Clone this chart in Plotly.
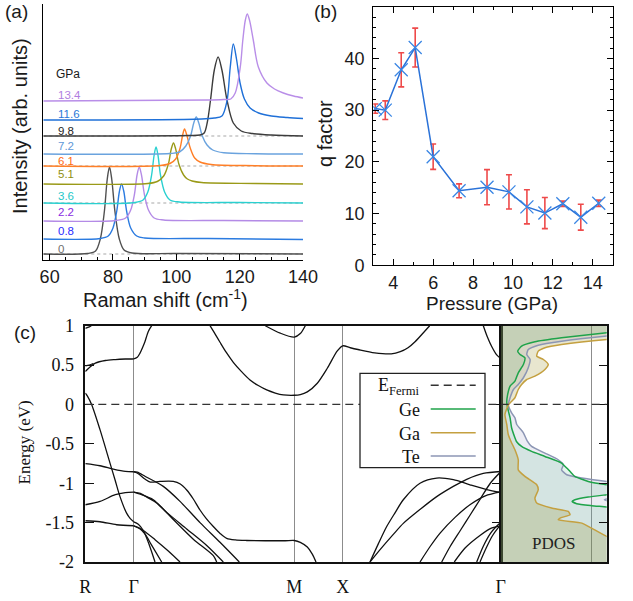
import plotly.graph_objects as go

W, H = 633, 601
def px(x): return x / W
def py(y): return 1 - y / H

SANS = "Liberation Sans, Arial, sans-serif"
SERIF = "Liberation Serif, Times New Roman, serif"

# ---------------- (a) Raman spectra ----------------
pressure_labels = ["0", "0.8", "2.2", "3.6", "5.1", "6.1", "7.2", "9.8", "11.6", "13.4"]
curve_colors = ["#505050", "#2b7be0", "#b48be6", "#2ad0d0", "#9a9a18", "#ff7f27",
                "#6aa3de", "#3c3c3c", "#1f70d8", "#b98ee8"]
label_colors = ["#707070", "#2a2aff", "#8a2be2", "#25c8c8", "#8f8f10", "#ff6a10",
                "#5f98d8", "#1e1e1e", "#2a78d8", "#b07ee0"]
baselines = [6, 21, 39, 57, 76, 94, 106, 124, 141, 160]
label_y = [11, 29, 48, 64, 86, 99.5, 114, 129, 146, 165.5]
dotted_rows = [0, 3, 5, 7]

shift_00 = [58, 72, 74.5, 76, 77.3, 78.2, 78.9, 79.6, 80.6, 82, 83.5, 86, 100, 140]
inten_00 = [0, 0.5, 3, 15, 43, 75, 87, 75, 43, 15, 4, 1, 0.5, 0]
shift_08 = [58, 76, 78.5, 80, 81.2, 82.0, 82.7, 83.4, 84.3, 85.6, 87.5, 90, 110, 140]
inten_08 = [0, 0.5, 3, 11, 28, 47, 55, 48, 28, 11, 3, 1, 0.5, -0.5]
shift_22 = [58, 81, 84, 85.6, 86.8, 87.6, 88.3, 89.0, 89.9, 91.2, 93, 96, 115, 140]
inten_22 = [0, 0.5, 3, 11, 27, 46, 54, 46, 27, 11, 3, 1, 0.5, 0]
shift_36 = [58, 87, 89.5, 91, 92.2, 93.0, 93.6, 94.2, 95.0, 96.3, 98, 101, 120, 140]
inten_36 = [0, 0.5, 3, 11, 28, 48, 56, 48, 28, 11, 3, 1, 0.5, 0]
shift_51 = [58, 91, 94, 96, 97.5, 98.4, 99.1, 99.8, 100.8, 102.3, 103.5, 105, 108, 125, 140]
inten_51 = [0, 0.5, 2.5, 8, 20, 35, 41, 35, 20, 9, 5, 3, 1.5, 0.5, 0]
shift_61 = [58, 95, 98, 99.8, 101.2, 102.0, 102.6, 103.3, 104.4, 105.8, 107.5, 111, 125, 140]
inten_61 = [0, 0.5, 2.5, 7, 18, 31, 37, 31, 18, 8, 4, 1.5, 0.3, 0]
shift_72 = [58, 98, 101, 103, 104.5, 105.5, 106.3, 107.1, 108.2, 109.7, 111.5, 115, 125, 140]
inten_72 = [0, 0.5, 2, 8, 18, 31, 37, 31, 18, 9, 4, 1.2, 0.3, 0]
shift_98 = [58, 104, 107.5, 108.8, 109.8, 110.8, 112.0, 113.2, 114.4, 116, 118, 120.5, 124, 130, 140]
inten_98 = [0, 0.5, 1, 3, 14, 36, 66, 79, 66, 36, 13, 5, 2.5, 1, 0]
shift_116 = [58, 108, 112, 114.4, 116, 117, 118, 119, 120.2, 121.5, 123.3, 126, 130, 135, 140]
inten_116 = [-1, 0, 1, 3, 18, 51, 75, 60, 35, 20, 11, 6, 3, 1.5, 0.5]
shift_134 = [58, 110, 115, 117.2, 118.6, 120.2, 121.0, 121.8, 122.4, 123.1, 124.3, 125.9, 128.6, 131, 133.8, 137, 140]
inten_134 = [-1, 0, 0.5, 1, 7, 33, 60, 80, 86, 80, 60, 33, 17, 11, 7, 4, 2]

spectra = [(shift_00, inten_00), (shift_08, inten_08), (shift_22, inten_22), (shift_36, inten_36),
           (shift_51, inten_51), (shift_61, inten_61), (shift_72, inten_72), (shift_98, inten_98),
           (shift_116, inten_116), (shift_134, inten_134)]
raman_range = [58, 140]

# ---------------- (b) q factor ----------------
pressure_b = [3.1, 3.6, 4.4, 5.1, 6.0, 7.3, 8.7, 9.8, 10.7, 11.6, 12.5, 13.4, 14.3]
q_factor = [30.3, 30.0, 37.8, 42.1, 21.0, 14.4, 15.1, 14.2, 11.3, 10.1, 11.9, 9.3, 12.0]
q_error = [0.9, 1.8, 3.3, 3.75, 2.45, 1.35, 3.4, 3.3, 3.3, 3.0, 0.5, 2.5, 0.6]

# ---------------- (c) band structure ----------------
k_points = [0.0, 0.484, 2.09, 2.574, 4.154]
k_labels = ["R", "Γ", "M", "X", "Γ"]
FERMI = 0.0

bands = [
    ([0, 0.05, 0.10, 0.20, 0.30, 0.40, 0.484, 0.52, 0.547, 0.575, 0.597, 0.63, 0.664],
     [0.419, 0.48, 0.525, 0.558, 0.57, 0.577, 0.580, 0.60, 0.652, 0.73, 0.80, 0.927, 1.0]),
    ([0, 0.04, 0.08], [0.49, 0.50, 0.52]),
    ([0, 0.04, 0.06], [0.965, 0.985, 1.0]),
    ([0, 0.02, 0.063, 0.147, 0.247, 0.297, 0.347, 0.413, 0.45, 0.484],
     [0.145, 0.11, 0.0, -0.32, -0.744, -0.955, -1.17, -1.38, -1.45, -1.49]),
    ([0.484, 0.53, 0.58, 0.63, 0.697], [-1.49, -1.52, -1.60, -1.75, -2.0]),
    ([0.484, 0.54, 0.60, 0.66, 0.764], [-1.54, -1.57, -1.65, -1.78, -2.0]),
    ([0.484, 0.58, 0.70, 0.83, 0.947], [-1.54, -1.60, -1.72, -1.86, -2.0]),
    ([0, 0.147, 0.28, 0.40, 0.484], [-0.752, -0.778, -0.82, -0.85, -0.854]),
    ([0.484, 0.53, 0.60, 0.65, 0.747, 0.88, 0.95, 1.014, 1.08, 1.147, 1.21, 1.28, 1.35, 1.414,
      1.50, 1.614, 1.80, 2.00, 2.09, 2.15, 2.22, 2.27, 2.307],
     [-0.854, -0.88, -0.95, -0.985, -0.977, -0.977, -1.01, -1.086, -1.20, -1.34, -1.45, -1.55,
      -1.64, -1.70, -1.72, -1.727, -1.73, -1.73, -1.727, -1.75, -1.81, -1.90, -2.0]),
    ([0.484, 0.52, 0.60, 0.78, 0.947, 1.147, 1.347, 1.54],
     [-0.854, -0.86, -0.914, -1.04, -1.23, -1.50, -1.75, -2.0]),
    ([0, 0.147, 0.30, 0.40, 0.484], [-1.273, -1.23, -1.146, -1.12, -1.114]),
    ([0.484, 0.55, 0.62, 0.713, 0.88, 1.08, 1.28, 1.314],
     [-1.114, -1.13, -1.18, -1.25, -1.46, -1.71, -1.92, -2.0]),
    ([0.484, 0.55, 0.68, 0.814, 1.014, 1.214, 1.38],
     [-1.114, -1.14, -1.21, -1.37, -1.58, -1.79, -2.0]),
    ([0, 0.147, 0.313, 0.484], [-1.476, -1.489, -1.527, -1.54]),
    ([1.247, 1.30, 1.347, 1.41, 1.48, 1.56, 1.647, 1.73, 1.814, 1.90, 1.98, 2.09, 2.15, 2.22,
      2.32, 2.42, 2.52, 2.574, 2.65, 2.727, 2.894, 3.06, 3.15, 3.227, 3.30, 3.394, 3.444],
     [1.0, 0.89, 0.79, 0.66, 0.535, 0.42, 0.311, 0.24, 0.184, 0.145, 0.122, 0.117, 0.125, 0.16,
      0.27, 0.46, 0.68, 0.745, 0.72, 0.698, 0.656, 0.643, 0.67, 0.72, 0.80, 0.93, 1.0]),
    ([1.80, 1.95, 2.09, 2.15, 2.2], [1.0, 0.905, 0.855, 0.90, 1.0]),
    ([3.98, 4.02, 4.064, 4.114, 4.154], [1.0, 0.86, 0.736, 0.63, 0.585]),
    ([2.847, 2.93, 3.014, 3.10, 3.18, 3.347, 3.514, 3.68, 3.847, 4.014, 4.154],
     [-2.0, -1.77, -1.55, -1.37, -1.21, -1.0, -0.934, -0.955, -1.02, -1.08, -1.116]),
    ([2.847, 2.95, 3.08, 3.18, 3.35, 3.514, 3.68, 3.814, 3.98, 4.154],
     [-2.0, -1.84, -1.65, -1.51, -1.33, -1.17, -1.04, -0.95, -0.875, -0.851]),
    ([3.347, 3.45, 3.55, 3.70, 3.85, 4.00, 4.154], [-2.0, -1.80, -1.63, -1.43, -1.27, -1.16, -1.11]),
    ([3.564, 3.65, 3.75, 3.85, 3.95, 4.05, 4.154], [-2.0, -1.80, -1.60, -1.40, -1.20, -1.0, -0.855]),
    ([3.69, 3.80, 3.95, 4.06, 4.154], [-2.0, -1.82, -1.66, -1.57, -1.54]),
    ([3.914, 3.98, 4.05, 4.11, 4.154], [-2.0, -1.80, -1.64, -1.55, -1.50]),
    ([3.947, 4.01, 4.07, 4.12, 4.154], [-2.0, -1.82, -1.67, -1.58, -1.53]),
]

# ---------------- (c) PDOS ----------------
pdos_range = [0, 3.5]
pdos_marker_line = 3.0
E_ge = [1.0, 0.93, 0.910, 0.846, 0.796, 0.741, 0.677, 0.635, 0.593, 0.508, 0.402, 0.296, 0.233,
        0.127, 0.022, -0.078, -0.169, -0.296, -0.423, -0.47, -0.533, -0.596, -0.66, -0.744, -0.807,
        -0.85, -0.913, -0.977, -1.019, -1.05, -1.10, -1.146, -1.175, -1.21, -1.23, -1.26, -1.285,
        -1.302, -1.35, -2.0]
dos_ge = [5, 4.2, 3.5, 2.01, 1.13, 0.69, 0.56, 0.64, 0.80, 0.75, 0.58, 0.47, 0.31,
          0.23, 0.20, 0.25, 0.31, 0.36, 0.47, 0.52, 0.69, 1.02, 1.46, 2.01, 2.18,
          2.29, 2.45, 2.89, 3.5, 4.2, 4.5, 3.5, 2.89, 2.45, 2.36, 2.51, 3.0,
          3.5, 4.5, 5]
E_te = [1.0, 0.89, 0.868, 0.804, 0.753, 0.698, 0.635, 0.571, 0.466, 0.339, 0.254, 0.19, 0.085,
        -0.008, -0.106, -0.169, -0.254, -0.36, -0.466, -0.533, -0.617, -0.702, -0.765, -0.83,
        -0.892, -0.934, -0.977, -1.0, -1.15, -1.19, -1.21, -1.23, -1.27, -2.0]
dos_te = [5, 4.2, 3.5, 2.01, 1.24, 0.91, 0.86, 0.97, 0.91, 0.75, 0.58, 0.42, 0.31,
          0.25, 0.36, 0.47, 0.53, 0.75, 0.88, 1.02, 1.46, 1.90, 2.07, 2.01,
          2.18, 2.68, 3.5, 4.2, 4.5, 3.6, 3.42, 3.6, 4.5, 5]
E_ga = [1.0, 0.84, 0.825, 0.762, 0.72, 0.677, 0.614, 0.571, 0.508, 0.444, 0.36, 0.317, 0.254,
        0.19, 0.085, -0.008, -0.127, -0.254, -0.381, -0.47, -0.575, -0.702, -0.83, -0.913, -1.019,
        -1.083, -1.189, -1.252, -1.315, -1.358, -1.4, -1.442, -1.463, -1.506, -1.57, -1.675, -1.75, -2.0]
dos_ga = [5, 4.2, 3.5, 2.01, 1.46, 1.24, 1.19, 1.41, 1.57, 1.46, 1.13, 0.86, 0.69,
          0.58, 0.47, 0.25, 0.14, 0.20, 0.25, 0.34, 0.47, 0.58, 0.58, 0.80, 1.19,
          1.24, 1.13, 1.19, 1.68, 2.23, 2.29, 1.96, 1.90, 2.68, 3.0, 3.5, 4.2, 5]

species = [
    ("Te", E_te, dos_te, "#8c96b4", "rgba(140,140,180,0.165)"),
    ("Ge", E_ge, dos_ge, "#1fa34a", "rgba(80,180,140,0.154)"),
    ("Ga", E_ga, dos_ga, "#c4a040", "rgba(133,122,0,0.19)"),
]

fig = go.Figure()

# (a)
for i, (xs, hs) in enumerate(spectra):
    if i in dotted_rows:
        fig.add_trace(go.Scatter(x=raman_range, y=[baselines[i]] * 2, mode="lines",
                                 line=dict(color="#a8a8a8", width=1.1, dash="dot"),
                                 xaxis="x", yaxis="y", showlegend=False, hoverinfo="skip"))
for i, (xs, hs) in enumerate(spectra):
    fig.add_trace(go.Scatter(x=xs, y=[baselines[i] + h for h in hs], mode="lines",
                             line=dict(color=curve_colors[i], width=1.4, shape="spline", smoothing=0.9),
                             xaxis="x", yaxis="y", showlegend=False))

# (b)
fig.add_trace(go.Scatter(x=pressure_b, y=q_factor, mode="lines+markers",
                         line=dict(color="#2a72d8", width=1.5),
                         marker=dict(symbol="x-thin", size=13, line=dict(color="#3a86e4", width=1.3)),
                         error_y=dict(type="data", array=q_error, color="#ee4a4a", thickness=1.6, width=3),
                         xaxis="x2", yaxis="y2", showlegend=False))

# (c) bands
for ks, es in bands:
    fig.add_trace(go.Scatter(x=ks, y=es, mode="lines",
                             line=dict(color="#111111", width=1.3, shape="spline", smoothing=0.8),
                             xaxis="x3", yaxis="y3", showlegend=False, hoverinfo="skip"))

# (c) PDOS fills then lines
for name, es, ds, lc, fc in species:
    fig.add_trace(go.Scatter(x=ds, y=es, mode="lines", fill="tozerox", fillcolor=fc,
                             line=dict(width=0, shape="spline", smoothing=0.5),
                             xaxis="x4", yaxis="y4", showlegend=False, hoverinfo="skip"))
for name, es, ds, lc, fc in species:
    fig.add_trace(go.Scatter(x=ds, y=es, mode="lines",
                             line=dict(color=lc, width=1.5, shape="spline", smoothing=0.5),
                             xaxis="x4", yaxis="y4", showlegend=False))

band_ticks = [-2, -1.5, -1, -0.5, 0, 0.5, 1]
band_ticktext = ["-2", "-1.5", "-1", "-0.5", "0", "0.5", "1"]

fig.update_layout(
    width=W, height=H, autosize=False,
    margin=dict(l=0, r=0, t=0, b=0, pad=0, autoexpand=False),
    paper_bgcolor="white", plot_bgcolor="white", showlegend=False,
    font=dict(family=SANS, color="#1a1a1a"),
    xaxis=dict(domain=[px(43.3), px(303)], range=raman_range, tick0=60, dtick=20,
               ticks="inside", ticklen=6, tickwidth=1, tickcolor="black",
               minor=dict(dtick=5, ticklen=3, ticks="inside", tickcolor="black"),
               showline=True, linecolor="black", linewidth=1.2, showgrid=False, zeroline=False,
               tickfont=dict(size=18, family=SANS), anchor="y", ticklabelstandoff=0,
               automargin=False),
    yaxis=dict(domain=[py(260), py(4)], range=[0, 256], showticklabels=False, ticks="",
               showline=True, linecolor="black", linewidth=1.2, showgrid=False, zeroline=False,
               anchor="x", automargin=False),
    xaxis2=dict(domain=[px(373.3), px(612.7)], range=[3, 15], tickvals=[4, 6, 8, 10, 12, 14],
                ticks="inside", ticklen=6, tickcolor="black",
                minor=dict(dtick=1, ticklen=3, ticks="inside", tickcolor="black"),
                showline=True, mirror="allticks", linecolor="black", linewidth=1.2,
                showgrid=False, zeroline=False, tickfont=dict(size=18, family=SANS), anchor="y2",
                ticklabelstandoff=1, automargin=False),
    yaxis2=dict(domain=[py(265.3), py(6.7)], range=[0, 50], dtick=10,
                ticks="inside", ticklen=6, tickcolor="black",
                minor=dict(dtick=2, ticklen=3, ticks="inside", tickcolor="black"),
                showline=True, mirror="allticks", linecolor="black", linewidth=1.2,
                showgrid=False, zeroline=False, tickfont=dict(size=18, family=SANS), anchor="x2",
                ticklabelstandoff=4, automargin=False),
    xaxis3=dict(domain=[px(85.3), px(500.7)], range=[k_points[0], k_points[-1]],
                tickvals=k_points, ticktext=k_labels, ticks="", showgrid=True,
                gridcolor="#8c8c8c", gridwidth=1, showline=True, mirror=True, linecolor="#111",
                linewidth=1.5, zeroline=False, tickfont=dict(size=18, family=SERIF, color="#111"),
                anchor="y3", ticklabelstandoff=8, automargin=False),
    yaxis3=dict(domain=[py(562), py(325.7)], range=[-2, 1], tickvals=band_ticks,
                ticktext=band_ticktext, ticks="inside", ticklen=9, tickcolor="#111",
                showline=True, mirror="ticks", linecolor="#111", linewidth=1.5,
                showgrid=False, zeroline=False, tickfont=dict(size=18, family=SERIF, color="#111"),
                anchor="x3", ticklabelstandoff=6, automargin=False),
    xaxis4=dict(domain=[px(500.7), px(606.7)], range=pdos_range, tickvals=[pdos_marker_line],
                ticks="", showticklabels=False, showgrid=True, gridcolor="#8c8c8c", gridwidth=1,
                showline=True, mirror=True, linecolor="#111", linewidth=1.5, zeroline=False,
                anchor="y4", automargin=False),
    yaxis4=dict(domain=[py(562), py(325.7)], range=[-2, 1], tickvals=band_ticks,
                ticks="inside", ticklen=8, tickcolor="#111", side="right",
                showticklabels=False, showline=True, mirror=True, linecolor="#111",
                linewidth=1.5, showgrid=False, zeroline=False, anchor="x4", automargin=False),
)

shapes = []
for xr in ["x3 domain", "x4 domain"]:
    shapes.append(dict(type="line", xref=xr, yref="y3", x0=0, x1=1, y0=FERMI, y1=FERMI,
                       line=dict(color="#333", width=1.3, dash="8px,5px"), layer="above"))
# custom legend box for (c)
shapes.append(dict(type="rect", xref="paper", yref="paper", x0=px(360), x1=px(485),
                   y0=py(467.7), y1=py(373.3), line=dict(color="#222", width=1.3),
                   fillcolor="white", layer="above"))
legend_rows = [("E<sub>Fermi</sub>", "#333", "8px,5px", 385.3),
               ("Ge", "#1fa34a", "solid", 409),
               ("Ga", "#c4a040", "solid", 432.7),
               ("Te", "#8c96b4", "solid", 456)]
annotations = []
for txt, col, dash, yy in legend_rows:
    shapes.append(dict(type="line", xref="paper", yref="paper", x0=px(430.7), x1=px(475.7),
                       y0=py(yy), y1=py(yy), line=dict(color=col, width=1.5, dash=dash),
                       layer="above"))
    annotations.append(dict(text=txt, xref="paper", yref="paper", x=px(421.7), y=py(yy + 1),
                            xanchor="right", yanchor="middle", showarrow=False,
                            font=dict(family=SERIF, size=18, color="#111")))
fig.update_layout(shapes=shapes)

# labels in (a)
annotations.append(dict(text="GPa", x=61.3, y=186.5, xref="x", yref="y", xanchor="left",
                        yanchor="middle", showarrow=False, font=dict(size=12, color="#1a1a1a")))
for i, lab in enumerate(pressure_labels):
    annotations.append(dict(text=lab, x=61.9, y=label_y[i], xref="x", yref="y", xanchor="left",
                            yanchor="middle", showarrow=False,
                            font=dict(size=11.5, color=label_colors[i])))

def note(text, x, y, size, family=SANS, angle=0, color="#1a1a1a"):
    return dict(text=text, x=px(x), y=py(y), xref="paper", yref="paper", xanchor="center",
                yanchor="middle", textangle=angle, showarrow=False,
                font=dict(size=size, family=family, color=color))

annotations += [
    note("(a)", 16, 12, 19),
    note("(b)", 325, 12, 19),
    note("(c)", 25, 333, 19),
    note("Raman shift (cm<sup>-1</sup>)", 165, 298, 20),
    note("Intensity (arb. units)", 20, 126, 20, angle=-90),
    note("Pressure (GPa)", 492, 303, 19),
    note("q factor", 325, 134, 20, angle=-90),
    note("Energy (eV)", 24, 442.5, 17, family=SERIF, angle=-90, color="#111"),
    dict(text="PDOS", x=1.75, y=-1.764, xref="x4", yref="y4", showarrow=False,
         xanchor="center", yanchor="middle", font=dict(size=17, family=SERIF, color="#222")),
]
fig.update_layout(annotations=annotations)

fig.write_html("out.html")
